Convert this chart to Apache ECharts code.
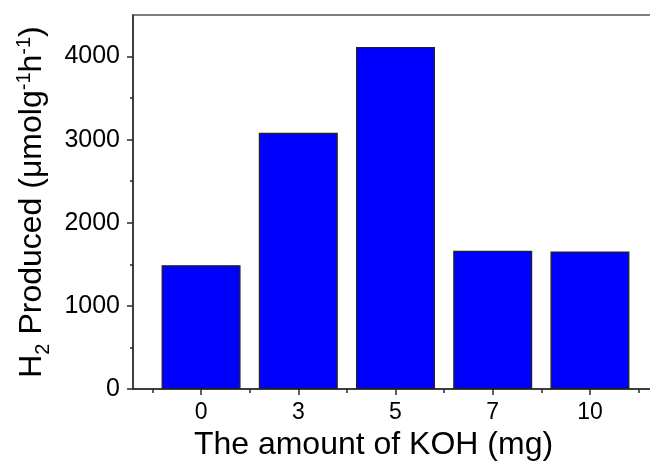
<!DOCTYPE html>
<html>
<head>
<meta charset="utf-8">
<style>
  html, body { margin: 0; padding: 0; background: #fff; }
  #chart { width: 650px; height: 461px; }
</style>
<script src="https://cdn.jsdelivr.net/npm/echarts@6/dist/echarts.min.js"></script>
</head>
<body>
<div id="chart"></div>
<script>
// KOH loading (mg) and the hydrogen evolution rate measured for each
const categories = ['0', '3', '5', '7', '10'];
const h2Values = [1490, 3082, 4115, 1663, 1655];

// Tick positions on the rate axis
const yMajorTicks = [0, 1000, 2000, 3000, 4000];
const yMinorTicks = [500, 1500, 2500, 3500];

const FONT = '"Liberation Sans", Arial, Helvetica, sans-serif';
const INK = '#000';
const AXIS = '#2a2a2a';

// Categories are laid out on a numeric axis so the frame can extend
// a little further than half a band past the outer bars.
const catIndex = categories.map((_, i) => i);
const catMinor = categories.map((_, i) => i - 0.5).concat([categories.length - 0.5]);
const X_MIN = -0.7, X_MAX = categories.length - 1 + 0.7;

const chart = echarts.init(document.getElementById('chart'), null, { renderer: 'canvas' });

const hiddenLabel = { show: false };

chart.setOption({
  animation: false,
  backgroundColor: '#fff',
  textStyle: { fontFamily: FONT, color: INK },
  grid: {
    left: 133, top: 15, bottom: 72, width: 525,
    outerBoundsMode: 'none', containLabel: false,
    show: true, borderColor: '#555', borderWidth: 1.5, backgroundColor: 'transparent'
  },
  xAxis: [
    {
      type: 'value', min: X_MIN, max: X_MAX,
      axisLine: { show: true, onZero: false, lineStyle: { color: AXIS, width: 1.5 } },
      axisTick: { show: true, inside: false, length: 6, customValues: catIndex, lineStyle: { color: AXIS, width: 1.5 } },
      axisLabel: {
        show: true, customValues: catIndex, margin: 12,
        fontSize: 23, color: INK, fontFamily: FONT,
        formatter: v => categories[Math.round(v)]
      },
      splitLine: { show: false },
      name: 'The amount of KOH (mg)',
      nameLocation: 'middle', nameGap: 39,
      nameTextStyle: { fontSize: 32, color: INK, fontFamily: FONT, padding: [0, 44, 0, 0] }
    },
    {
      type: 'value', min: X_MIN, max: X_MAX, position: 'bottom', offset: 0,
      axisLine: { show: false, onZero: false },
      axisTick: { show: true, inside: false, length: 4, customValues: catMinor, lineStyle: { color: AXIS, width: 1.5 } },
      axisLabel: hiddenLabel,
      splitLine: { show: false }
    }
  ],
  yAxis: [
    {
      type: 'value', min: 0, max: 4500,
      axisLine: { show: true, onZero: false, lineStyle: { color: AXIS, width: 1.5 } },
      axisTick: { show: true, inside: false, length: 6, customValues: yMajorTicks, lineStyle: { color: AXIS, width: 1.5 } },
      axisLabel: {
        show: true, customValues: yMajorTicks, margin: 13,
        fontSize: 25, color: INK, fontFamily: FONT,
        formatter: v => String(v)
      },
      splitLine: { show: false },
      name: 'H{sub|2} Produced (μmolg{sup|-1}h{sup|-1})',
      nameLocation: 'middle', nameGap: 72,
      nameTextStyle: {
        fontSize: 32, color: INK, fontFamily: FONT, lineHeight: 36,
        rich: {
          sub: { fontSize: 20, fontFamily: FONT, color: INK, verticalAlign: 'bottom', lineHeight: 16, padding: [0, 0, -3, 0] },
          sup: { fontSize: 20, fontFamily: FONT, color: INK, verticalAlign: 'top', lineHeight: 16 }
        }
      }
    },
    {
      type: 'value', min: 0, max: 4500, position: 'left', offset: 0,
      axisLine: { show: false, onZero: false },
      axisTick: { show: true, inside: false, length: 3, customValues: yMinorTicks, lineStyle: { color: AXIS, width: 1.5 } },
      axisLabel: hiddenLabel,
      splitLine: { show: false }
    }
  ],
  series: [
    {
      type: 'bar',
      xAxisIndex: 0, yAxisIndex: 0,
      barWidth: 79,
      data: h2Values.map((v, i) => [i, v]),
      itemStyle: { color: '#0000ff', borderColor: '#222', borderWidth: 1.3 }
    }
  ]
});
</script>
</body>
</html>
